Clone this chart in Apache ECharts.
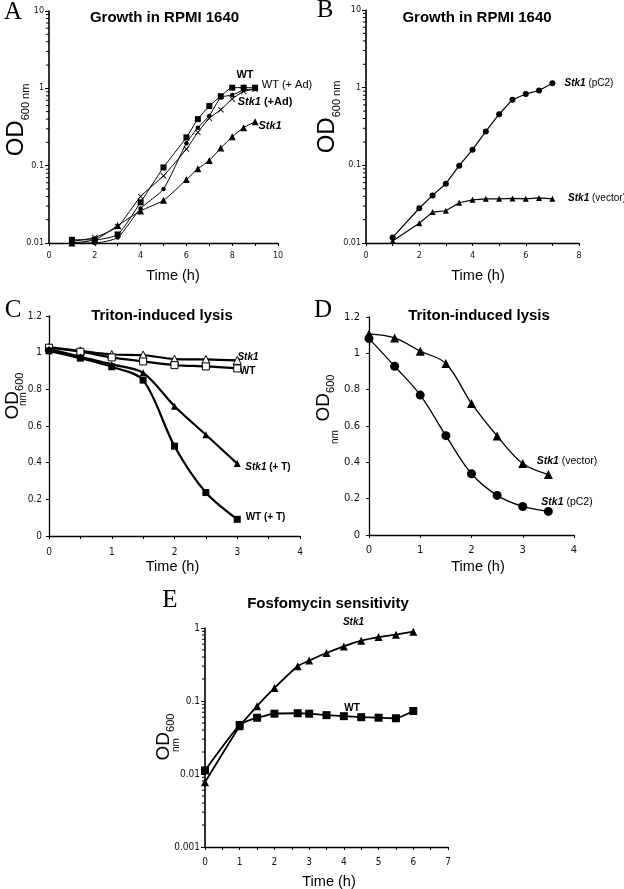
<!DOCTYPE html>
<html><head><meta charset="utf-8">
<script src="https://cdn.jsdelivr.net/npm/echarts@6/dist/echarts.min.js"></script>
<style>html,body{margin:0;padding:0;background:#fff}#c{width:624px;height:889px}</style>
</head><body><div id="c"></div>
<script>
// ---- Panel A: Growth in RPMI 1640 ----
const aTime = [1, 2, 3, 4, 5, 6, 6.5, 7, 7.5, 8, 8.5, 9];
const aWT = [0.011, 0.011, 0.0129, 0.0336, 0.095, 0.232, 0.40, 0.59, 0.79, 1.02, 1.02, 1.02];
const aWTAd = [0.010, 0.010, 0.0118, 0.028, 0.050, 0.195, 0.31, 0.44, 0.76, 0.82, 0.95, 0.98];
const aStk1Ad = [0.0105, 0.0118, 0.0163, 0.040, 0.074, 0.164, 0.27, 0.41, 0.53, 0.73, 0.91, 0.97];
const aStk1 = [0.010, 0.011, 0.0168, 0.026, 0.0356, 0.066, 0.091, 0.117, 0.169, 0.237, 0.31, 0.37];
// ---- Panel B ----
const bTime = [1, 2, 2.5, 3, 3.5, 4, 4.5, 5, 5.5, 6, 6.5, 7];
const bPC2 = [0.0118, 0.028, 0.041, 0.058, 0.099, 0.159, 0.273, 0.455, 0.70, 0.83, 0.92, 1.14];
const bVector = [0.0106, 0.018, 0.025, 0.026, 0.033, 0.036, 0.037, 0.037, 0.0375, 0.037, 0.038, 0.037];
// ---- Panel C: Triton-induced lysis ----
const cTime = [0, 0.5, 1, 1.5, 2, 2.5, 3];
const cStk1 = [1.03, 1.01, 0.99, 0.987, 0.965, 0.963, 0.958];
const cWT = [1.027, 1.005, 0.974, 0.952, 0.932, 0.925, 0.914];
const cStk1T = [1.02, 0.978, 0.936, 0.89, 0.708, 0.552, 0.395];
const cWTT = [1.01, 0.97, 0.923, 0.85, 0.49, 0.237, 0.091];
// ---- Panel D ----
const dTime = [0, 0.5, 1, 1.5, 2, 2.5, 3, 3.5];
const dVector = [1.107, 1.085, 1.012, 0.944, 0.724, 0.545, 0.393, 0.333];
const dPC2 = [1.081, 0.929, 0.77, 0.547, 0.337, 0.218, 0.157, 0.13];
// ---- Panel E: Fosfomycin sensitivity ----
const eTime = [0, 1, 1.5, 2, 2.67, 3, 3.5, 4, 4.5, 5, 5.5, 6];
const eStk1 = [0.0077, 0.045, 0.085, 0.151, 0.30, 0.358, 0.455, 0.56, 0.67, 0.75, 0.81, 0.89];
const eWT = [0.0112, 0.047, 0.059, 0.067, 0.068, 0.067, 0.064, 0.062, 0.060, 0.059, 0.058, 0.073];

const zip = (xs, ys) => xs.map((x, i) => [x, ys[i]]);
const X_PATH = 'path://M0,1L1,0L5,4L9,0L10,1L6,5L10,9L9,10L5,6L1,10L0,9L4,5Z';
const SANS = "'Liberation Sans', Arial, sans-serif";
const NARROW = "'DejaVu Sans Condensed', 'Liberation Sans Narrow', 'Liberation Sans', sans-serif";
const VERD = "'DejaVu Sans', sans-serif";

function logMinor(lo, hi) {
  const out = [];
  for (let d = lo; d < hi; d *= 10) for (let k = 2; k <= 9; k++) out.push(+(k * d).toPrecision(3));
  return out;
}

const grids = [
  {left: 49, top: 11, width: 229, height: 232},
  {left: 366, top: 10, width: 213, height: 233},
  {left: 49, top: 316, width: 251, height: 220},
  {left: 369, top: 317, width: 205, height: 218},
  {left: 205, top: 628, width: 243, height: 219}
];

function xAxis(gi, max, interval, font, size, margin, minor) {
  return {
    type: 'value', gridIndex: gi, min: 0, max: max, interval: interval,
    axisLine: {lineStyle: {color: '#000', width: 1.3}},
    axisTick: {show: true, length: 3, lineStyle: {color: '#000'}},
    minorTick: {show: !!minor, splitNumber: 2, length: 3, lineStyle: {color: '#000'}},
    splitLine: {show: false},
    axisLabel: {fontFamily: font, fontSize: size, color: '#111', margin: margin}
  };
}
function logY(gi, min, max, font, size, margin) {
  return {
    type: 'log', logBase: 10, gridIndex: gi, min: min, max: max,
    axisLine: {show: true, lineStyle: {color: '#000', width: 1.6}},
    axisTick: {show: true, length: 4, lineStyle: {color: '#000'}},
    splitLine: {show: false},
    axisLabel: {fontFamily: font, fontSize: size, color: '#111', margin: margin,
      formatter: v => String(+(+v).toPrecision(2))}
  };
}
function linY(gi, font, size, margin) {
  return {
    type: 'value', gridIndex: gi, min: 0, max: 1.2, interval: 0.2,
    axisLine: {show: true, lineStyle: {color: '#000', width: 1.3}},
    axisTick: {show: true, length: 3, lineStyle: {color: '#000'}},
    splitLine: {show: false},
    axisLabel: {fontFamily: font, fontSize: size, color: '#111', margin: margin,
      formatter: v => String(+(+v).toFixed(1))}
  };
}

function line(gi, data, symbol, size, lw, smooth, open) {
  return {
    type: 'line', xAxisIndex: gi, yAxisIndex: gi, data: data,
    symbol: symbol, symbolSize: size, showSymbol: true, smooth: smooth,
    lineStyle: {color: '#000', width: lw},
    itemStyle: open ? {color: '#fff', borderColor: '#000', borderWidth: 1} : {color: '#000', borderWidth: 0},
    z: 3, silent: true
  };
}
function minorTicks(gi, xmin, vals) {
  return {
    type: 'custom', xAxisIndex: gi, yAxisIndex: gi, silent: true, clip: false,
    data: vals.map(v => [xmin, v]),
    renderItem: (params, api) => {
      const p = api.coord([api.value(0), api.value(1)]);
      return {type: 'line', shape: {x1: p[0] - 3, y1: p[1], x2: p[0], y2: p[1]},
        style: {stroke: '#000', lineWidth: 1}};
    }
  };
}

const series = [
  line(0, zip(aTime, aWT), 'rect', 6, 1, 0.2),
  line(0, zip(aTime, aWTAd), 'circle', 4.5, 1, 0.2),
  line(0, zip(aTime, aStk1Ad), X_PATH, 6, 1, 0.2),
  line(0, zip(aTime, aStk1), 'triangle', 7, 1, 0.2),
  minorTicks(0, 0, logMinor(0.01, 10)),
  line(1, zip(bTime, bPC2), 'circle', 6, 1.2, false),
  line(1, zip(bTime, bVector), 'triangle', 6, 1.2, false),
  minorTicks(1, 0, logMinor(0.01, 10)),
  line(2, zip(cTime, cStk1), 'triangle', 8, 2.2, 0.3, true),
  line(2, zip(cTime, cWT), 'rect', 7, 2.2, 0.3, true),
  line(2, zip(cTime, cStk1T), 'triangle', 7, 2.2, 0.3),
  line(2, zip(cTime, cWTT), 'rect', 7, 2.2, 0.3),
  line(3, zip(dTime, dVector), 'triangle', 9, 1.3, 0.35),
  line(3, zip(dTime, dPC2), 'circle', 9, 1.3, 0.35),
  line(4, zip(eTime, eStk1), 'triangle', 8, 1.8, 0.15),
  line(4, zip(eTime, eWT), 'rect', 8, 1.8, 0.15),
  minorTicks(4, 0, logMinor(0.001, 1))
];

function txt(x, y, text, size, opts) {
  opts = opts || {};
  return {type: 'text', x: x, y: y, rotation: opts.rot || 0, silent: true,
    style: {text: text, fontFamily: opts.font || SANS, fontSize: size, fontWeight: opts.bold ? 'bold' : 'normal',
      fill: '#000', align: opts.align || 'center', verticalAlign: 'middle', rich: opts.rich}};
}
const annRich = s => ({
  i: {fontFamily: SANS, fontSize: s, fontWeight: 'bold', fontStyle: 'italic', fill: '#000'},
  b: {fontFamily: SANS, fontSize: s, fontWeight: 'bold', fill: '#000'},
  n: {fontFamily: SANS, fontSize: s, fill: '#000'}
});
const odRich = (big, small) => ({
  od: {fontFamily: SANS, fontSize: big, fill: '#000', verticalAlign: 'bottom', padding: [0, 0, 3, 0]},
  sub: {fontFamily: SANS, fontSize: small, fill: '#000', verticalAlign: 'bottom'}
});
const ROT = Math.PI / 2;
const SERIF = "'Liberation Serif', serif";

const graphic = [
  // panel letters
  txt(13, 12, 'A', 25, {font: SERIF}),
  txt(325, 10, 'B', 25, {font: SERIF}),
  txt(13, 310, 'C', 25, {font: SERIF}),
  txt(323, 310, 'D', 25, {font: SERIF}),
  txt(170, 600, 'E', 25, {font: SERIF}),
  // titles
  txt(164.5, 18, 'Growth in RPMI 1640', 15, {bold: true}),
  txt(477, 18, 'Growth in RPMI 1640', 15, {bold: true}),
  txt(162, 316, 'Triton-induced lysis', 15, {bold: true}),
  txt(479, 316, 'Triton-induced lysis', 15, {bold: true}),
  txt(328, 604, 'Fosfomycin sensitivity', 15, {bold: true}),
  // x titles
  txt(173, 276, 'Time (h)', 14.5),
  txt(478, 276, 'Time (h)', 14.5),
  txt(172.5, 567, 'Time (h)', 14.5),
  txt(478, 567, 'Time (h)', 14.5),
  txt(329, 882, 'Time (h)', 14.5),
  // y titles
  txt(18, 120, '{od|OD}{sub|600 nm}', 24, {rot: ROT, rich: odRich(24, 11)}),
  txt(329, 117, '{od|OD}{sub|600 nm}', 24, {rot: ROT, rich: odRich(24, 11)}),
  txt(14, 396, '{od|OD}{sub|600}', 19, {rot: ROT, rich: odRich(19, 11)}),
  txt(23, 399, 'nm', 10, {rot: ROT}),
  txt(325, 398, '{od|OD}{sub|600}', 19, {rot: ROT, rich: odRich(19, 11)}),
  txt(335, 437, 'nm', 10, {rot: ROT}),
  txt(165, 737, '{od|OD}{sub|600}', 19, {rot: ROT, rich: odRich(19, 11)}),
  txt(176, 745, 'nm', 10, {rot: ROT}),
  // annotations A
  txt(245, 75, '{b|WT}', 11, {rich: annRich(11)}),
  txt(287, 85, '{n|WT (+ Ad)}', 11, {rich: annRich(11)}),
  txt(265, 102, '{i|Stk1} {b|(+Ad)}', 11, {rich: annRich(11)}),
  txt(270, 126, '{i|Stk1}', 11, {rich: annRich(11)}),
  // annotations B
  txt(589, 83, '{i|Stk1} {n|(pC2)}', 10, {rich: annRich(10)}),
  txt(597, 198, '{i|Stk1} {n|(vector)}', 10, {rich: annRich(10)}),
  // annotations C
  txt(248, 357, '{i|Stk1}', 10, {rich: annRich(10)}),
  txt(247.5, 371, '{b|WT}', 10, {rich: annRich(10)}),
  txt(268, 467, '{i|Stk1} {b|(+ T)}', 10, {rich: annRich(10)}),
  txt(265.5, 517, '{b|WT (+ T)}', 10, {rich: annRich(10)}),
  // annotations D
  txt(567, 461, '{i|Stk1} {n|(vector)}', 10.5, {rich: annRich(10.5)}),
  txt(567, 502, '{i|Stk1} {n|(pC2)}', 10.5, {rich: annRich(10.5)}),
  // annotations E
  txt(353.5, 622, '{i|Stk1}', 10, {rich: annRich(10)}),
  txt(352, 708, '{b|WT}', 10, {rich: annRich(10)})
];

const option = {
  animation: false,
  backgroundColor: '#fff',
  grid: grids,
  xAxis: [
    xAxis(0, 10, 2, VERD, 8, 9, true),
    xAxis(1, 8, 2, VERD, 8, 9, true),
    xAxis(2, 4, 1, NARROW, 10, 11, true),
    xAxis(3, 4, 1, VERD, 10, 10, false),
    xAxis(4, 7, 1, NARROW, 10, 10, true)
  ],
  yAxis: [
    logY(0, 0.01, 10, VERD, 8, 5),
    logY(1, 0.01, 10, VERD, 8, 5),
    linY(2, NARROW, 10, 7),
    linY(3, VERD, 10, 9),
    logY(4, 0.001, 1, NARROW, 10, 5)
  ],
  series: series,
  graphic: graphic
};
const chart = echarts.init(document.getElementById('c'), null, {renderer: 'canvas'});
chart.setOption(option);
</script></body></html>
